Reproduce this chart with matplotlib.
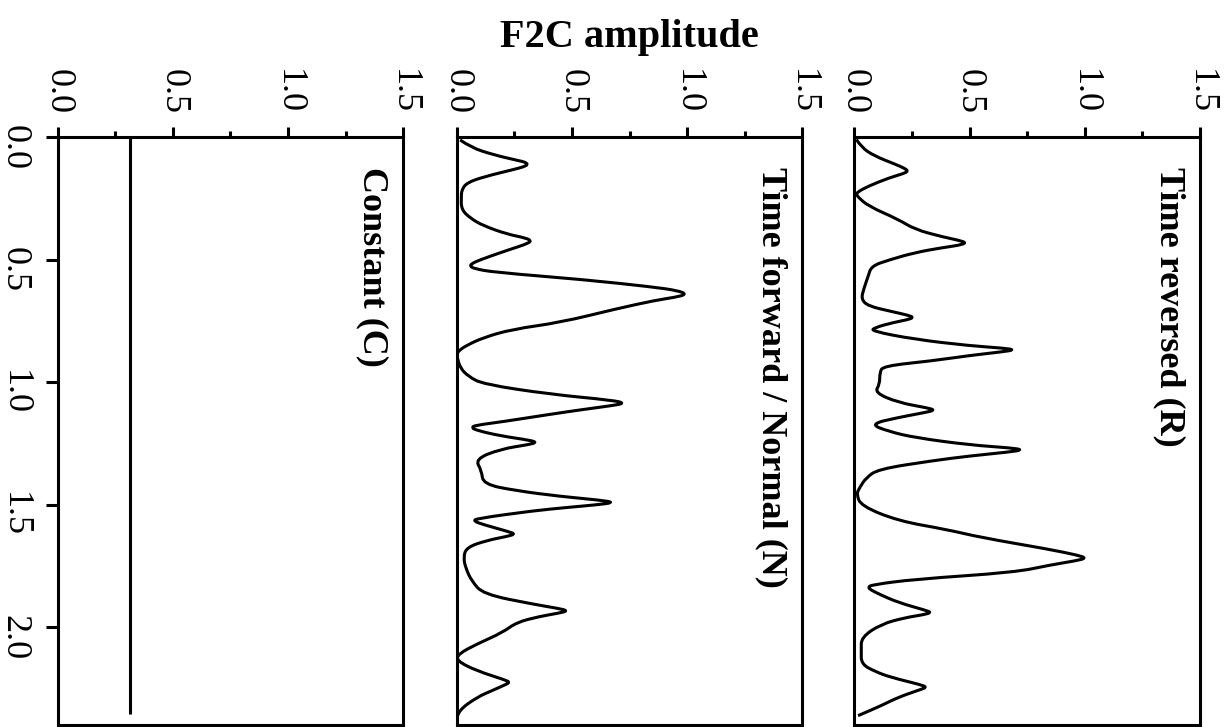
import matplotlib.pyplot as plt
from matplotlib.path import Path
from matplotlib.patches import PathPatch

plt.rcParams["font.family"] = ["Liberation Serif", "DejaVu Serif"]

# time (s) and F2C amplitude
t_normal = [0.01, 0.04, 0.07, 0.095, 0.10, 0.11, 0.12, 0.13, 0.16, 0.185, 0.215,
            0.24, 0.294, 0.33, 0.36, 0.395, 0.41, 0.423, 0.435, 0.445, 0.47, 0.5,
            0.515, 0.525, 0.535, 0.55, 0.58, 0.61, 0.625, 0.64, 0.652, 0.665,
            0.70, 0.755, 0.783, 0.817, 0.85, 0.87, 0.885, 0.90, 0.94, 0.975,
            1.007, 1.048, 1.073, 1.085, 1.095, 1.11, 1.13, 1.16, 1.175, 1.184,
            1.195, 1.218, 1.236, 1.245, 1.254, 1.272, 1.313, 1.36, 1.415, 1.442,
            1.465, 1.48, 1.49, 1.50, 1.51, 1.524, 1.555, 1.565, 1.58, 1.61,
            1.619, 1.628, 1.645, 1.673, 1.714, 1.76, 1.81, 1.864, 1.905, 1.922,
            1.932, 1.942, 1.955, 1.979, 2.02, 2.068, 2.108, 2.136, 2.177, 2.214,
            2.224, 2.234, 2.255, 2.285, 2.34, 2.387]
a_normal = [0.015, 0.06, 0.157, 0.27, 0.295, 0.31, 0.29, 0.25, 0.12, 0.043, 0.022,
            0.02, 0.02, 0.06, 0.115, 0.22, 0.30, 0.325, 0.30, 0.27, 0.19, 0.10,
            0.065, 0.058, 0.075, 0.16, 0.55, 0.85, 0.96, 0.998, 0.95, 0.86,
            0.69, 0.45, 0.24, 0.115, 0.04, 0.01, 0.0, 0.003, 0.015, 0.05,
            0.115, 0.405, 0.68, 0.73, 0.67, 0.55, 0.405, 0.2, 0.08, 0.065,
            0.085, 0.19, 0.32, 0.347, 0.31, 0.19, 0.08, 0.108, 0.115, 0.26,
            0.45, 0.62, 0.687, 0.60, 0.48, 0.33, 0.09, 0.072, 0.115, 0.23,
            0.253, 0.22, 0.13, 0.043, 0.029, 0.04, 0.065, 0.115, 0.332, 0.44,
            0.484, 0.44, 0.36, 0.26, 0.20, 0.087, 0.007, 0.0, 0.087, 0.21,
            0.231, 0.21, 0.16, 0.087, 0.007, 0.0]

t_reversed = [0.008, 0.04, 0.076, 0.11, 0.127, 0.137, 0.147, 0.165, 0.199, 0.222,
              0.232, 0.242, 0.28, 0.334, 0.375, 0.405, 0.42, 0.43, 0.44, 0.45,
              0.47, 0.5, 0.525, 0.566, 0.62, 0.66, 0.688, 0.71, 0.727, 0.735,
              0.743, 0.755, 0.776, 0.79, 0.824, 0.85, 0.86, 0.867, 0.875, 0.89,
              0.912, 0.933, 0.96, 1.007, 1.041, 1.082, 1.104, 1.113, 1.122,
              1.143, 1.17, 1.2, 1.225, 1.255, 1.267, 1.275, 1.284, 1.3, 1.32,
              1.354, 1.39, 1.429, 1.456, 1.504, 1.565, 1.60, 1.633, 1.68, 1.705,
              1.717, 1.728, 1.745, 1.775, 1.803, 1.826, 1.836, 1.846, 1.865,
              1.898, 1.93, 1.939, 1.948, 1.96, 1.986, 2.04, 2.095, 2.149, 2.18,
              2.204, 2.234, 2.244, 2.254, 2.285, 2.319, 2.36]
a_reversed = [0.009, 0.03, 0.088, 0.18, 0.22, 0.233, 0.215, 0.15, 0.06, 0.015,
              0.009, 0.015, 0.06, 0.19, 0.262, 0.38, 0.455, 0.486, 0.455, 0.38,
              0.262, 0.15, 0.074, 0.06, 0.04, 0.03, 0.06, 0.16, 0.24, 0.255,
              0.235, 0.17, 0.088, 0.074, 0.262, 0.5, 0.65, 0.696, 0.64, 0.5,
              0.334, 0.125, 0.11, 0.11, 0.088, 0.19, 0.32, 0.349, 0.31,
              0.19, 0.067, 0.15, 0.262, 0.5, 0.68, 0.732, 0.67, 0.5, 0.334,
              0.103, 0.05, 0.023, 0.009, 0.03, 0.19, 0.40, 0.551, 0.84, 0.97,
              1.007, 0.96, 0.85, 0.696, 0.262, 0.075, 0.06, 0.07, 0.11,
              0.19, 0.31, 0.334, 0.30, 0.22, 0.117, 0.03, 0.03, 0.03, 0.09,
              0.16, 0.29, 0.314, 0.285, 0.19, 0.117, 0.016]

t_constant = [0.0, 2.355]
a_constant = [0.314, 0.314]

panel_titles = ["Constant (C)", "Time forward / Normal (N)", "Time reversed (R)"]
amp_ticks = [0.0, 0.5, 1.0, 1.5]
time_ticks = [0.0, 0.5, 1.0, 1.5, 2.0]


def smooth_path(xs, ys):
    # quadratic Bezier through the read points (points used as control points)
    pts = list(zip(xs, ys))
    if len(pts) < 3:
        return Path(pts)
    verts = [pts[0]]
    codes = [Path.MOVETO]
    for k in range(1, len(pts) - 1):
        mid = ((pts[k][0] + pts[k + 1][0]) / 2, (pts[k][1] + pts[k + 1][1]) / 2)
        verts += [pts[k], mid]
        codes += [Path.CURVE3, Path.CURVE3]
    verts.append(pts[-1])
    codes.append(Path.LINETO)
    return Path(verts, codes)


fig = plt.figure(figsize=(12.27, 7.27), dpi=100)

lefts = [0.0470, 0.3722, 0.6963]
series = [(t_constant, a_constant), (t_normal, a_normal), (t_reversed, a_reversed)]

for i, (left, (tt, aa), title) in enumerate(zip(lefts, series, panel_titles)):
    ax = fig.add_axes([left, 0.0021, 0.2817, 0.8088])
    ax.add_patch(PathPatch(smooth_path(aa, tt), facecolor="none", edgecolor="black",
                           lw=2.2, joinstyle="round", capstyle="butt"))
    ax.set_xlim(0, 1.5)
    ax.set_ylim(2.4, 0)
    for sp in ax.spines.values():
        sp.set_linewidth(2.2)

    ax.xaxis.tick_top()
    ax.set_xticks(amp_ticks)
    ax.set_xticklabels([f"{v:.1f}" for v in amp_ticks], rotation=-90, fontsize=26)
    ax.set_xticks([0.25, 0.75, 1.25], minor=True)
    ax.tick_params(axis="x", which="major", direction="out", length=7.5, width=2.2, pad=9.5)
    ax.tick_params(axis="x", which="minor", direction="out", length=4, width=2.2)

    if i == 0:
        ax.set_yticks(time_ticks)
        ax.set_yticklabels([f"{v:.1f}" for v in time_ticks], rotation=-90, fontsize=26)
        ax.tick_params(axis="y", direction="out", length=8.5, width=2.2, pad=11)
    else:
        ax.set_yticks([])

    ax.text(0.91, 0.95, title, transform=ax.transAxes, rotation=-90,
            ha="center", va="top", fontsize=26, fontweight="bold")

fig.text(0.5126, 0.935, "F2C amplitude", ha="center", va="baseline",
         fontsize=29, fontweight="bold")

fig.savefig("out.png", dpi=100)
